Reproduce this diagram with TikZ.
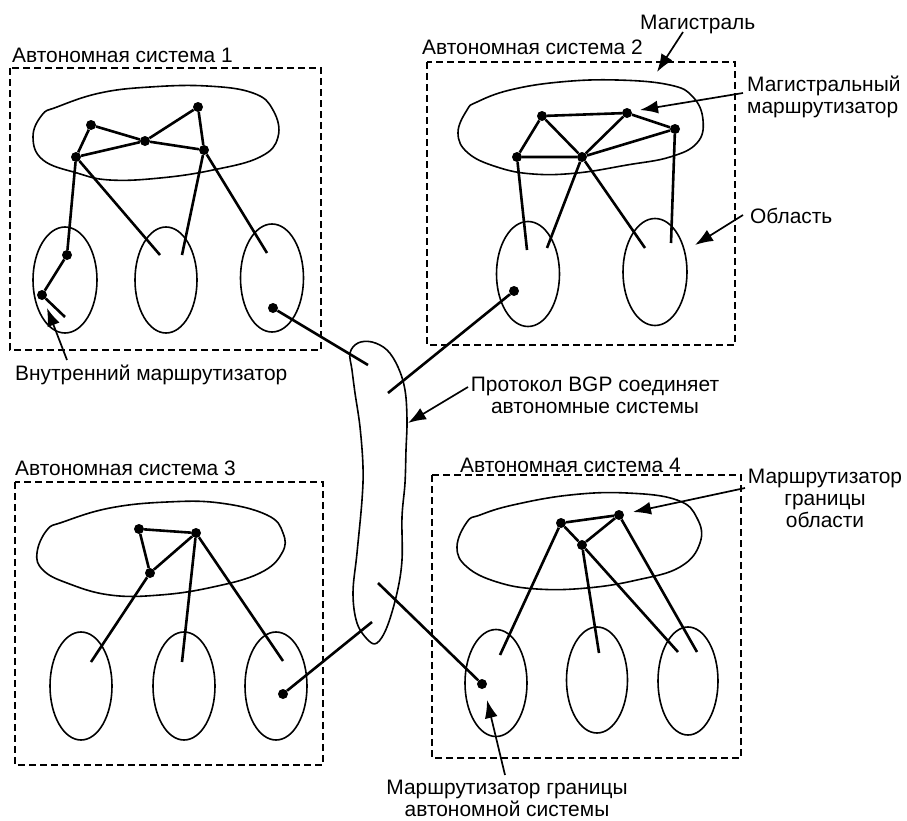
\documentclass[tikz,border=0pt]{standalone}
\usepackage{fontspec}
\setmainfont{Liberation Sans}
\usetikzlibrary{arrows.meta,shapes.geometric}
\begin{document}
\begin{tikzpicture}[x=1bp,y=-1bp]
\tikzset{
 rt/.style={circle,fill=black,inner sep=0pt,minimum size=10bp},
 link/.style={line width=2.6bp},
 blob/.style={line width=1.6bp},
 area/.style={ellipse,draw,line width=1.6bp,inner sep=0pt},
 asbox/.style={line width=1.6bp,dash pattern=on 7bp off 4bp},
 lbl/.style={inner sep=0pt,font=\fontsize{21}{22}\selectfont},
 ptr/.style={line width=1.7bp,-{Latex[length=18bp,width=13bp]}},
}
\useasboundingbox (0,0) rectangle (907,821);

% ---------- AS 1 ----------
\draw[asbox] (10,68) rectangle (321,350);
\node[lbl,anchor=base west] (t1) at (12,63) {Автономная система 1};
\draw[blob] plot[smooth cycle,tension=0.7] coordinates {(42,115) (33,137) (43,160) (77,173) (110,180) (160,178) (213,170) (260,157) (278,137) (273,110) (253,93) (207,86) (150,87) (100,93) (57,107)};
\node[area,minimum width=64bp,minimum height=106bp] (a11) at (65,280) {};
\node[area,minimum width=62bp,minimum height=106bp] (a12) at (166,280) {};
\node[area,minimum width=63bp,minimum height=108bp] (a13) at (272,278) {};
\node[rt] (r11) at (91,125) {};
\node[rt] (r12) at (198,107) {};
\node[rt] (r13) at (145,141) {};
\node[rt] (r14) at (76,157) {};
\node[rt] (r15) at (204,150) {};
\node[rt] (r16) at (67,255) {};
\node[rt] (r17) at (42,295) {};
\node[rt] (r18) at (273,308) {};
\coordinate (e11) at (65,317);
\coordinate (e12) at (160,255);
\coordinate (e13) at (182,255);
\coordinate (e14) at (267,253);
\draw[link] (r11)--(r14) (r11)--(r13) (r13)--(r15) (r14)--(r13) (r13)--(r12) (r12)--(r15)
  (r14)--(r16) (r16)--(r17) (r17)--(e11) (r14)--(e12) (r15)--(e13) (r15)--(e14);

% ---------- AS 2 ----------
\draw[asbox] (427,62) rectangle (735,345);
\node[lbl,anchor=base west] (t2) at (422,55) {Автономная система 2};
\draw[blob] plot[smooth cycle,tension=0.7] coordinates {(467,110) (458,133) (468,153) (497,167) (533,174) (577,173) (627,165) (670,157) (697,143) (703,120) (693,97) (670,85) (617,80) (560,82) (510,90) (477,102)};
\node[area,minimum width=63bp,minimum height=105bp] (a21) at (528,274) {};
\node[area,minimum width=64bp,minimum height=107bp] (a22) at (655,272) {};
\node[rt] (r21) at (542,116) {};
\node[rt] (r22) at (627,113) {};
\node[rt] (r23) at (675,129) {};
\node[rt] (r24) at (517,157) {};
\node[rt] (r25) at (582,157) {};
\node[rt] (r26) at (514,291) {};
\coordinate (e21) at (527,250);
\coordinate (e22) at (547,248);
\coordinate (e23) at (645,248);
\coordinate (e24) at (671,243);
\draw[link] (r21)--(r22) (r22)--(r23) (r21)--(r24) (r24)--(r25) (r21)--(r25) (r22)--(r25) (r23)--(r25)
  (r24)--(e21) (r25)--(e22) (r25)--(e23) (r23)--(e24);

% ---------- AS 3 ----------
\draw[asbox] (15,482) rectangle (323,765);
\node[lbl,anchor=base west] (t3) at (15,475) {Автономная система 3};
\draw[blob] plot[smooth cycle,tension=0.7] coordinates {(47,530) (37,553) (43,570) (67,583) (110,595) (160,595) (213,587) (260,573) (282,553) (283,533) (267,515) (220,503) (167,502) (110,508) (63,522)};
\node[area,minimum width=62bp,minimum height=108bp] (a31) at (81,686) {};
\node[area,minimum width=62bp,minimum height=108bp] (a32) at (184,686) {};
\node[area,minimum width=62bp,minimum height=108bp] (a33) at (276,686) {};
\node[rt] (r31) at (139,529) {};
\node[rt] (r32) at (196,533) {};
\node[rt] (r33) at (150,573) {};
\node[rt] (r34) at (283,694) {};
\coordinate (e31) at (91,662);
\coordinate (e32) at (182,662);
\coordinate (e33) at (283,661);
\draw[link] (r31)--(r32) (r31)--(r33) (r33)--(r32) (r33)--(e31) (r32)--(e32) (r32)--(e33);

% ---------- AS 4 ----------
\draw[asbox] (432,475) rectangle (741,758);
\node[lbl,anchor=base west] (t4) at (460,472) {Автономная система 4};
\draw[blob] plot[smooth cycle,tension=0.7] coordinates {(467,522) (457,547) (467,567) (497,582) (537,589) (587,588) (637,580) (680,567) (700,543) (697,518) (677,500) (627,493) (570,495) (513,505) (480,515)};
\node[area,minimum width=62bp,minimum height=107bp] (a41) at (496,683) {};
\node[area,minimum width=61bp,minimum height=106bp] (a42) at (597,680) {};
\node[area,minimum width=60bp,minimum height=108bp] (a43) at (688,681) {};
\node[rt] (r41) at (561,523) {};
\node[rt] (r42) at (619,515) {};
\node[rt] (r43) at (582,545) {};
\node[rt] (r44) at (482,684) {};
\coordinate (e41) at (500,655);
\coordinate (e42) at (599,653);
\coordinate (e43) at (678,652);
\coordinate (e44) at (697,652);
\draw[link] (r41)--(r42) (r41)--(r43) (r43)--(r42) (r41)--(e41) (r43)--(e42) (r43)--(e43) (r42)--(e44);

% ---------- BGP ----------
\draw[blob] plot[smooth cycle,tension=0.6] coordinates {(350,353) (358,343) (372,342) (387,350) (398,367) (405,390) (407,420) (406,450) (405,483) (402,517) (402,560) (397,593) (387,627) (377,643) (368,640) (357,623) (353,593) (357,553) (362,500) (363,467) (360,427) (355,393) (352,370)};
\coordinate (b1) at (368,365);
\coordinate (b2) at (388,393);
\coordinate (b3) at (372,622);
\coordinate (b4) at (378,583);
\draw[link] (r18)--(b1) (r26)--(b2) (r34)--(b3) (r44)--(b4);

% ---------- labels and pointers ----------
\node[lbl,anchor=base west] (lmag) at (640,30) {Магистраль};
\node[lbl,anchor=north west,align=left] (lmr) at (747,76) {Магистральный\\маршрутизатор};
\node[lbl,anchor=base west] (lobl) at (750,223) {Область};
\node[lbl,anchor=base west] (lvn) at (15,380) {Внутренний маршрутизатор};
\node[lbl,anchor=north,align=center] (lbgp) at (595,377) {Протокол BGP соединяет\\автономные системы};
\node[lbl,anchor=north,align=center] (lgo) at (825,469) {Маршрутизатор\\границы\\области};
\node[lbl,anchor=north,align=center] (lga) at (507,780) {Маршрутизатор границы\\автономной системы};

\coordinate (p1) at (683,32);
\coordinate (h1) at (657,72);
\coordinate (p2) at (743,93);
\coordinate (h2) at (640,110);
\coordinate (p3) at (743,215);
\coordinate (h3) at (695,245);
\coordinate (p4) at (67,360);
\coordinate (h4) at (47,308);
\coordinate (p5) at (468,387);
\coordinate (h5) at (408,423);
\coordinate (p6) at (745,488);
\coordinate (h6) at (633,512);
\coordinate (p7) at (505,775);
\coordinate (h7) at (487,700);
\draw[ptr] (p1)--(h1);
\draw[ptr] (p2)--(h2);
\draw[ptr] (p3)--(h3);
\draw[ptr] (p4)--(h4);
\draw[ptr] (p5)--(h5);
\draw[ptr] (p6)--(h6);
\draw[ptr] (p7)--(h7);
\end{tikzpicture}
\end{document}
